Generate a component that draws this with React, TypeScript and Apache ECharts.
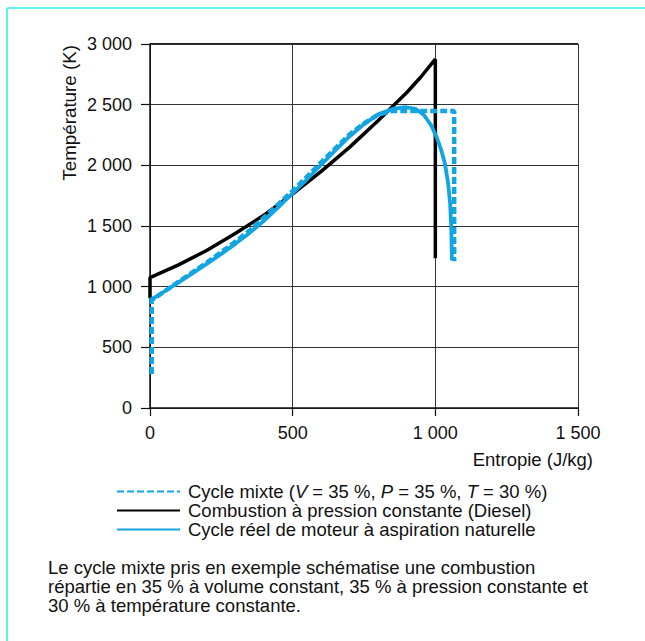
import React, { useEffect, useRef } from 'react';
import * as echarts from 'echarts';

const BLUE = '#12a5e2';
const FONT = '"Liberation Sans", Arial, sans-serif';

const xTickLabels = ['0', '500', '1 000', '1 500'];
const yTickLabels = ['0', '500', '1 000', '1 500', '2 000', '2 500', '3 000'];

const nameMixte = 'Cycle mixte (V = 35 %, P = 35 %, T = 30 %)';
const nameDiesel = 'Combustion à pression constante (Diesel)';
const nameReel = 'Cycle réel de moteur à aspiration naturelle';

// Combustion à pression constante (Diesel)
const dieselS = [0, 0, 100, 200, 300, 400, 500, 600, 700, 800, 850, 900, 950, 1000, 1000];
const dieselT = [905, 1075, 1180, 1300, 1440, 1590, 1765, 1950, 2150, 2370, 2485, 2600, 2730, 2875, 1235];

// Cycle mixte
const mixteS = [6, 6, 50, 100, 150, 200, 250, 300, 350, 400, 450, 500, 550, 600, 650, 700, 750, 800, 850, 1066, 1066];
const mixteT = [280, 888, 960, 1040, 1120, 1200, 1285, 1372, 1465, 1570, 1680, 1790, 1905, 2025, 2140, 2255, 2345, 2418, 2448, 2448, 1210];

// Cycle réel
const reelS = [0, 20, 50, 100, 150, 200, 250, 300, 350, 400, 450, 500, 550, 600, 650, 700, 750, 800, 850, 895, 930, 960, 985, 1005, 1020, 1034, 1045, 1052, 1056, 1058];
const reelT = [890, 915, 960, 1035, 1112, 1190, 1270, 1355, 1445, 1545, 1655, 1770, 1885, 2005, 2125, 2240, 2340, 2420, 2465, 2480, 2465, 2415, 2330, 2230, 2130, 2010, 1850, 1680, 1470, 1215];

const footnote = [
  'Le cycle mixte pris en exemple schématise une combustion',
  'répartie en 35 % à volume constant, 35 % à pression constante et',
  '30 % à température constante.',
];

const pairs = (xs: number[], ys: number[]) => xs.map((x, i) => [x, ys[i]]);

export default function App() {
  const ref = useRef<HTMLDivElement>(null);
  useEffect(() => {
    if (!ref.current) return;
    const chart = echarts.init(ref.current, undefined, { renderer: 'svg' });
    chart.setOption({
      animation: false,
      backgroundColor: '#ffffff',
      grid: { left: 150, top: 44, right: 67, bottom: 233, show: false },
      xAxis: {
        type: 'value',
        min: 0,
        max: 1500,
        interval: 500,
        axisLine: { show: true, lineStyle: { color: '#111', width: 1.5 } },
        axisTick: { show: true, inside: false, length: 8, lineStyle: { color: '#111', width: 1.2 } },
        axisLabel: {
          color: '#111',
          fontSize: 18,
          fontFamily: FONT,
          margin: 16,
          formatter: (v: number) => xTickLabels[Math.round(v / 500)],
        },
        splitLine: { show: true, lineStyle: { color: '#333', width: 1 } },
      },
      yAxis: {
        type: 'value',
        min: 0,
        max: 3000,
        interval: 500,
        axisLine: { show: true, lineStyle: { color: '#111', width: 1.5 } },
        axisTick: { show: true, inside: false, length: 9, lineStyle: { color: '#111', width: 1.2 } },
        axisLabel: {
          color: '#111',
          fontSize: 18,
          fontFamily: FONT,
          margin: 18,
          formatter: (v: number) => yTickLabels[Math.round(v / 500)],
        },
        splitLine: { show: true, lineStyle: { color: '#333', width: 1 } },
      },
      legend: {
        orient: 'vertical',
        left: 111,
        top: 477,
        itemWidth: 63,
        itemHeight: 14,
        itemGap: 0,
        itemStyle: { opacity: 0 },
        data: [nameMixte, nameDiesel, nameReel],
        formatter: (name: string) =>
          name === nameMixte ? 'Cycle mixte ({i|V} = 35 %, {i|P} = 35 %, {i|T} = 30 %)' : name,
        textStyle: {
          color: '#111',
          fontSize: 18.5,
          fontFamily: FONT,
          lineHeight: 19,
          padding: [0, 0, 0, 3],
          rich: {
            i: { fontStyle: 'italic', fontSize: 18.5, fontFamily: FONT, color: '#111', lineHeight: 19 },
          },
        },
      },
      graphic: [
        { type: 'line', shape: { x1: 7, y1: 8, x2: 645, y2: 8 }, style: { stroke: '#5ef4f4', lineWidth: 2 } },
        { type: 'line', shape: { x1: 7, y1: 8, x2: 7, y2: 641 }, style: { stroke: '#5ef4f4', lineWidth: 2 } },
        { type: 'line', shape: { x1: 150, y1: 44, x2: 578, y2: 44 }, style: { stroke: '#222', lineWidth: 2 } },
        {
          type: 'text',
          x: 69,
          y: 45,
          rotation: Math.PI / 2,
          style: { text: 'Température (K)', align: 'right', verticalAlign: 'middle', font: `18.8px ${FONT}`, fill: '#111' },
        },
        {
          type: 'text',
          x: 593,
          y: 459,
          style: { text: 'Entropie (J/kg)', align: 'right', verticalAlign: 'middle', font: `18.5px ${FONT}`, fill: '#111' },
        },
        {
          type: 'text',
          x: 48,
          y: 557.5,
          style: { text: footnote.join('\n'), align: 'left', verticalAlign: 'top', font: `18.5px ${FONT}`, lineHeight: 19, fill: '#111' },
        },
      ],
      series: [
        {
          name: nameDiesel,
          type: 'line',
          data: pairs(dieselS, dieselT),
          showSymbol: false,
          symbol: 'none',
          clip: false,
          lineStyle: { color: '#000', width: 3.5 },
          itemStyle: { color: '#000' },
          z: 3,
        },
        {
          name: nameMixte,
          type: 'line',
          data: pairs(mixteS, mixteT),
          showSymbol: false,
          symbol: 'none',
          clip: false,
          lineStyle: { color: BLUE, width: 4.5, type: [7, 3] },
          itemStyle: { color: BLUE },
          z: 4,
        },
        {
          name: nameReel,
          type: 'line',
          data: pairs(reelS, reelT),
          showSymbol: false,
          symbol: 'none',
          clip: false,
          lineStyle: { color: BLUE, width: 3.8 },
          itemStyle: { color: BLUE },
          z: 5,
        },
      ],
    });
    return () => chart.dispose();
  }, []);
  return <div ref={ref} style={{ position: 'fixed', left: 0, top: 0, width: 645, height: 641 }} />;
}
